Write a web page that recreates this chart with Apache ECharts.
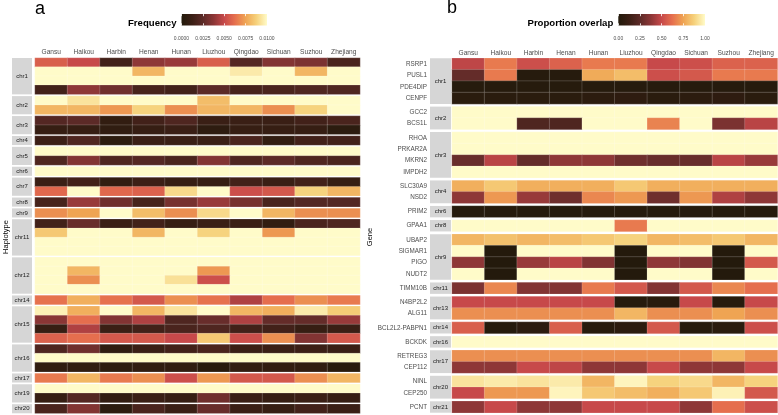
<!DOCTYPE html>
<html lang="en">
<head>
    <meta charset="utf-8">
    <title>Haplotype frequency and gene overlap</title>
    <script src="https://cdn.jsdelivr.net/npm/echarts@6/dist/echarts.min.js"></script>
    <style>
        html, body { margin: 0; padding: 0; background: #fff; }
    </style>
</head>
<body>

<div id="main" style="width: 778px;height:415px;"></div>

<script>
    var FONT = '"Liberation Sans", Arial, Helvetica, sans-serif';

    // columns of both heatmaps
    var regions = ['Gansu', 'Haikou', 'Harbin', 'Henan', 'Hunan', 'Liuzhou', 'Qingdao', 'Sichuan', 'Suzhou', 'Zhejiang'];

    // panel a: haplotype groups and how many haplotype rows each has
    var haploGroups = ['chr1', 'chr2', 'chr3', 'chr4', 'chr5', 'chr6', 'chr7', 'chr8', 'chr9', 'chr11', 'chr12', 'chr14', 'chr15', 'chr16', 'chr17', 'chr19', 'chr20'];
    var haploRows = [4, 2, 2, 1, 2, 1, 2, 1, 1, 4, 4, 1, 4, 3, 1, 2, 1];

    // panel a: frequency of each haplotype row, one value per region
    var haploFreq = [
        [0.0057, 0.0050, 0.0015, 0.0038, 0.0040, 0.0057, 0.0022, 0.0035, 0.0033, 0.0018],
        [0.0100, 0.0100, 0.0100, 0.0080, 0.0100, 0.0100, 0.0095, 0.0100, 0.0080, 0.0100],
        [0.0100, 0.0100, 0.0100, 0.0100, 0.0100, 0.0100, 0.0100, 0.0100, 0.0100, 0.0100],
        [0.0015, 0.0038, 0.0030, 0.0017, 0.0015, 0.0025, 0.0017, 0.0018, 0.0020, 0.0020],
        [0.0100, 0.0093, 0.0100, 0.0100, 0.0100, 0.0082, 0.0100, 0.0100, 0.0100, 0.0100],
        [0.0080, 0.0080, 0.0072, 0.0088, 0.0070, 0.0080, 0.0080, 0.0070, 0.0088, 0.0100],
        [0.0022, 0.0025, 0.0008, 0.0015, 0.0020, 0.0012, 0.0012, 0.0012, 0.0015, 0.0018],
        [0.0010, 0.0010, 0.0007, 0.0010, 0.0012, 0.0006, 0.0010, 0.0010, 0.0010, 0.0005],
        [0.0013, 0.0020, 0.0005, 0.0012, 0.0012, 0.0012, 0.0018, 0.0008, 0.0015, 0.0015],
        [0.0100, 0.0100, 0.0100, 0.0100, 0.0100, 0.0100, 0.0100, 0.0100, 0.0100, 0.0100],
        [0.0020, 0.0035, 0.0020, 0.0022, 0.0018, 0.0035, 0.0020, 0.0025, 0.0020, 0.0018],
        [0.0100, 0.0100, 0.0100, 0.0100, 0.0100, 0.0100, 0.0100, 0.0100, 0.0100, 0.0100],
        [0.0012, 0.0015, 0.0008, 0.0013, 0.0010, 0.0010, 0.0015, 0.0012, 0.0015, 0.0010],
        [0.0060, 0.0100, 0.0060, 0.0058, 0.0090, 0.0100, 0.0052, 0.0055, 0.0088, 0.0080],
        [0.0017, 0.0040, 0.0030, 0.0017, 0.0032, 0.0040, 0.0032, 0.0018, 0.0022, 0.0022],
        [0.0070, 0.0075, 0.0100, 0.0082, 0.0070, 0.0090, 0.0100, 0.0080, 0.0070, 0.0070],
        [0.0015, 0.0028, 0.0012, 0.0015, 0.0010, 0.0012, 0.0012, 0.0008, 0.0018, 0.0020],
        [0.0085, 0.0100, 0.0100, 0.0080, 0.0100, 0.0088, 0.0100, 0.0072, 0.0100, 0.0100],
        [0.0100, 0.0100, 0.0100, 0.0100, 0.0100, 0.0100, 0.0100, 0.0100, 0.0100, 0.0100],
        [0.0100, 0.0100, 0.0100, 0.0100, 0.0100, 0.0100, 0.0100, 0.0100, 0.0100, 0.0100],
        [0.0100, 0.0100, 0.0100, 0.0100, 0.0100, 0.0100, 0.0100, 0.0100, 0.0100, 0.0100],
        [0.0100, 0.0080, 0.0100, 0.0100, 0.0100, 0.0072, 0.0100, 0.0100, 0.0100, 0.0100],
        [0.0100, 0.0070, 0.0100, 0.0100, 0.0092, 0.0052, 0.0100, 0.0100, 0.0100, 0.0100],
        [0.0100, 0.0100, 0.0100, 0.0100, 0.0100, 0.0100, 0.0100, 0.0100, 0.0100, 0.0100],
        [0.0063, 0.0078, 0.0063, 0.0055, 0.0070, 0.0063, 0.0045, 0.0062, 0.0070, 0.0065],
        [0.0097, 0.0078, 0.0100, 0.0080, 0.0093, 0.0100, 0.0080, 0.0078, 0.0095, 0.0086],
        [0.0037, 0.0062, 0.0035, 0.0045, 0.0020, 0.0028, 0.0045, 0.0027, 0.0027, 0.0040],
        [0.0010, 0.0045, 0.0012, 0.0015, 0.0018, 0.0020, 0.0015, 0.0015, 0.0010, 0.0012],
        [0.0058, 0.0062, 0.0055, 0.0055, 0.0050, 0.0085, 0.0052, 0.0070, 0.0035, 0.0055],
        [0.0020, 0.0030, 0.0007, 0.0012, 0.0015, 0.0018, 0.0012, 0.0012, 0.0013, 0.0012],
        [0.0100, 0.0100, 0.0100, 0.0100, 0.0100, 0.0100, 0.0100, 0.0100, 0.0100, 0.0100],
        [0.0007, 0.0007, 0.0005, 0.0007, 0.0007, 0.0003, 0.0008, 0.0008, 0.0007, 0.0003],
        [0.0065, 0.0080, 0.0065, 0.0070, 0.0052, 0.0072, 0.0055, 0.0055, 0.0070, 0.0080],
        [0.0100, 0.0100, 0.0100, 0.0100, 0.0100, 0.0100, 0.0100, 0.0100, 0.0100, 0.0100],
        [0.0010, 0.0022, 0.0008, 0.0012, 0.0010, 0.0030, 0.0012, 0.0010, 0.0012, 0.0010],
        [0.0018, 0.0035, 0.0005, 0.0018, 0.0012, 0.0028, 0.0012, 0.0010, 0.0015, 0.0012]
    ];

    // panel b: genes and the chromosome each one sits on
    var genes = ['RSRP1', 'PUSL1', 'PDE4DIP', 'CENPF', 'GCC2', 'BCS1L', 'RHOA', 'PRKAR2A', 'MKRN2', 'IMPDH2',
        'SLC30A9', 'NSD2', 'PRIM2', 'GPAA1', 'UBAP2', 'SIGMAR1', 'PIGO', 'NUDT2', 'TIMM10B', 'N4BP2L2', 'ALG11',
        'BCL2L2-PABPN1', 'BCKDK', 'RETREG3', 'CEP112', 'NINL', 'CEP250', 'PCNT'];
    var geneChr = ['chr1', 'chr1', 'chr1', 'chr1', 'chr2', 'chr2', 'chr3', 'chr3', 'chr3', 'chr3',
        'chr4', 'chr4', 'chr6', 'chr8', 'chr9', 'chr9', 'chr9', 'chr9', 'chr11', 'chr13', 'chr13',
        'chr14', 'chr16', 'chr17', 'chr17', 'chr20', 'chr20', 'chr21'];

    // panel b: proportion overlap per gene and region
    var overlap = [
        [0.48, 0.65, 0.52, 0.58, 0.65, 0.65, 0.50, 0.52, 0.58, 0.58],
        [0.27, 0.65, 0.02, 0.02, 0.77, 0.82, 0.52, 0.55, 0.65, 0.65],
        [0.02, 0.02, 0.02, 0.02, 0.02, 0.02, 0.02, 0.02, 0.02, 0.02],
        [0.04, 0.04, 0.04, 0.04, 0.05, 0.06, 0.04, 0.05, 0.06, 0.04],
        [1.00, 1.00, 1.00, 1.00, 1.00, 1.00, 1.00, 1.00, 1.00, 1.00],
        [1.00, 1.00, 0.20, 0.20, 1.00, 1.00, 0.67, 1.00, 0.33, 0.47],
        [1.00, 1.00, 1.00, 1.00, 1.00, 1.00, 1.00, 1.00, 1.00, 1.00],
        [1.00, 1.00, 1.00, 1.00, 1.00, 1.00, 1.00, 1.00, 1.00, 1.00],
        [0.28, 0.47, 0.27, 0.38, 0.38, 0.30, 0.28, 0.28, 0.47, 0.40],
        [1.00, 1.00, 1.00, 1.00, 1.00, 1.00, 1.00, 1.00, 1.00, 1.00],
        [0.78, 0.85, 0.78, 0.78, 0.78, 0.85, 0.78, 0.78, 0.78, 0.78],
        [0.38, 0.72, 0.40, 0.30, 0.68, 0.72, 0.30, 0.72, 0.45, 0.38],
        [0.02, 0.02, 0.02, 0.02, 0.02, 0.02, 0.02, 0.02, 0.02, 0.02],
        [1.00, 1.00, 1.00, 1.00, 1.00, 0.65, 1.00, 1.00, 1.00, 1.00],
        [0.80, 0.83, 0.80, 0.82, 0.85, 0.88, 0.80, 0.82, 0.85, 0.80],
        [1.00, 0.01, 1.00, 1.00, 1.00, 0.01, 1.00, 1.00, 0.01, 1.00],
        [0.38, 0.01, 0.40, 0.47, 0.35, 0.01, 0.38, 0.35, 0.01, 0.55],
        [1.00, 0.01, 1.00, 1.00, 1.00, 0.01, 1.00, 1.00, 0.01, 1.00],
        [0.33, 0.68, 0.35, 0.35, 0.65, 0.55, 0.35, 0.55, 0.68, 0.62],
        [0.50, 0.50, 0.50, 0.50, 0.50, 0.02, 0.03, 0.50, 0.03, 0.50],
        [0.70, 0.70, 0.70, 0.70, 0.70, 0.80, 0.70, 0.70, 0.75, 0.70],
        [0.57, 0.02, 0.05, 0.57, 0.03, 0.05, 0.55, 0.02, 0.04, 0.52],
        [1.00, 1.00, 1.00, 1.00, 1.00, 1.00, 1.00, 1.00, 1.00, 1.00],
        [0.70, 0.70, 0.70, 0.70, 0.70, 0.70, 0.70, 0.70, 0.80, 0.70],
        [0.38, 0.38, 0.50, 0.48, 0.38, 0.38, 0.50, 0.38, 0.38, 0.50],
        [0.93, 0.95, 0.93, 0.95, 0.80, 0.98, 0.88, 0.90, 0.80, 0.88],
        [0.50, 0.72, 0.72, 0.98, 0.85, 0.82, 0.78, 0.85, 0.97, 0.55],
        [0.38, 0.50, 0.38, 0.38, 0.50, 0.50, 0.50, 0.38, 0.62, 0.52]
    ];

    // colour bar ticks
    var freqTicks = [0, 0.0025, 0.005, 0.0075, 0.01];
    var overlapTicks = [0, 0.25, 0.5, 0.75, 1];

    var palette = ['#221a0b', '#3b1f15', '#5c2a27', '#8c3636', '#c7494a', '#e6704e', '#efa453', '#f6d17b', '#fffbc9'];

    // expand panel a group sizes into one chr name per row
    var haploChr = [];
    var haploNames = [];
    haploGroups.forEach(function (g, i) {
        for (var k = 0; k < haploRows[i]; k++) {
            haploChr.push(g);
            haploNames.push(g + '_' + (k + 1));
        }
    });

    // contiguous runs of the same chromosome -> one facet each
    function runs(chrList) {
        var out = [];
        chrList.forEach(function (c, i) {
            var last = out[out.length - 1];
            if (last && last.name === c) last.end = i;
            else out.push({name: c, start: i, end: i});
        });
        return out;
    }

    var option = {
        animation: false,
        backgroundColor: '#fff',
        textStyle: {fontFamily: FONT},
        grid: [], xAxis: [], yAxis: [], series: [], visualMap: [], graphic: []
    };

    function addPanel(p) {
        var groups = runs(p.chr);
        var rowH = (p.bottom - p.top - p.gap * (groups.length - 1)) / p.chr.length;
        var y = p.top;
        var idx = [];
        groups.forEach(function (g, k) {
            var n = g.end - g.start + 1;
            var h = n * rowH;
            var gi = option.grid.length;
            option.grid.push({left: p.left, top: y, width: p.width, height: h});
            option.xAxis.push({
                type: 'category', gridIndex: gi, data: regions, position: 'top',
                axisLine: {show: false}, axisTick: {show: false}, splitLine: {show: false},
                axisLabel: {show: k === 0, interval: 0, fontSize: 6.6, color: '#4d4d4d', margin: 2, fontFamily: FONT}
            });
            option.yAxis.push({
                type: 'category', gridIndex: gi, inverse: true, data: p.names.slice(g.start, g.end + 1),
                axisLine: {show: false}, axisTick: {show: false}, splitLine: {show: false},
                axisLabel: {show: p.rowLabels, interval: 0, fontSize: 6.3, color: '#4d4d4d', margin: p.labelMargin, fontFamily: FONT}
            });
            var data = [];
            for (var r = g.start; r <= g.end; r++) {
                p.values[r].forEach(function (v, c) {
                    data.push([c, r - g.start, v]);
                });
            }
            idx.push(option.series.length);
            option.series.push({
                type: 'heatmap', xAxisIndex: gi, yAxisIndex: gi, data: data, silent: true,
                itemStyle: {borderColor: 'rgba(255,255,255,0.35)', borderWidth: 0.5},
                emphasis: {disabled: true}
            });
            // facet strip
            option.graphic.push({
                type: 'rect', silent: true,
                shape: {x: p.stripX, y: y, width: p.stripW, height: h},
                style: {fill: '#d6d6d6'}
            });
            option.graphic.push({
                type: 'text', silent: true, x: p.stripX + p.stripW / 2, y: y + h / 2,
                style: {text: g.name, fill: '#1a1a1a', font: '6px ' + FONT,
                    textAlign: 'center', textVerticalAlign: 'middle', align: 'center', verticalAlign: 'middle'}
            });
            y += h + p.gap;
        });
        option.visualMap.push({
            type: 'continuous', show: false, min: 0, max: p.max, seriesIndex: idx,
            inRange: {color: palette}
        });
    }

    function addColorbar(cb) {
        var gi = option.grid.length;
        option.grid.push({left: cb.left, top: cb.top, width: cb.width, height: cb.height});
        var stops = palette.map(function (c, i) {
            return {offset: i / (palette.length - 1), color: c};
        });
        var xi = option.xAxis.length;
        option.xAxis.push({
            type: 'value', gridIndex: gi, min: 0, max: cb.ticks[cb.ticks.length - 1],
            interval: cb.ticks[1], position: 'bottom', z: 5,
            axisLine: {show: false}, splitLine: {show: false},
            axisTick: {show: true, inside: true, length: 2.2, lineStyle: {color: '#fff', width: 0.8}, customValues: cb.ticks},
            axisLabel: {fontSize: 5, color: '#4d4d4d', margin: 11, fontFamily: FONT, customValues: cb.ticks,
                formatter: function (v) { return v.toFixed(cb.digits); }}
        });
        option.xAxis.push({
            type: 'value', gridIndex: gi, min: 0, max: cb.ticks[cb.ticks.length - 1],
            interval: cb.ticks[1], position: 'top', z: 5,
            axisLine: {show: false}, splitLine: {show: false}, axisLabel: {show: false},
            axisTick: {show: true, inside: true, length: 2.2, lineStyle: {color: '#fff', width: 0.8}, customValues: cb.ticks}
        });
        var yi = option.yAxis.length;
        option.yAxis.push({type: 'value', gridIndex: gi, show: false, min: 0, max: 1});
        option.series.push({
            type: 'custom', xAxisIndex: xi, yAxisIndex: yi, data: [[0, 0]], silent: true, z: 1,
            renderItem: function (params) {
                var cs = params.coordSys;
                return {
                    type: 'rect',
                    shape: {x: cs.x, y: cs.y, width: cs.width, height: cs.height},
                    style: {fill: new echarts.graphic.LinearGradient(0, 0, 1, 0, stops)}
                };
            }
        });
        option.graphic.push({
            type: 'text', silent: true, x: cb.left - 5, y: cb.top + 9,
            style: {text: cb.title, fill: '#000', font: 'bold 9.6px ' + FONT,
                textAlign: 'right', textVerticalAlign: 'middle', align: 'right', verticalAlign: 'middle'}
        });
    }

    addPanel({
        chr: haploChr, names: haploNames, values: haploFreq, max: 0.01,
        left: 35, width: 325, top: 58, bottom: 413.3, gap: 1.75,
        stripX: 12, stripW: 20, rowLabels: false, labelMargin: 4
    });
    addPanel({
        chr: geneChr, names: genes, values: overlap, max: 1,
        left: 452, width: 325.5, top: 58.3, bottom: 412.7, gap: 2.7,
        stripX: 430, stripW: 21, rowLabels: true, labelMargin: 25
    });
    addColorbar({title: 'Frequency', ticks: freqTicks, digits: 4, left: 181.5, top: 14, width: 85.5, height: 11.5});
    addColorbar({title: 'Proportion overlap', ticks: overlapTicks, digits: 2, left: 618.3, top: 14, width: 86.7, height: 11.5});

    // panel letters and axis titles
    option.graphic.push(
        {type: 'text', silent: true, x: 35, y: 9, style: {text: 'a', fill: '#000', font: '18px ' + FONT, textAlign: 'left', textVerticalAlign: 'middle', align: 'left', verticalAlign: 'middle'}},
        {type: 'text', silent: true, x: 447, y: 8, style: {text: 'b', fill: '#000', font: '18px ' + FONT, textAlign: 'left', textVerticalAlign: 'middle', align: 'left', verticalAlign: 'middle'}},
        {type: 'text', silent: true, x: 5.5, y: 237, rotation: Math.PI / 2, style: {text: 'Haplotype', fill: '#000', font: '7.5px ' + FONT, textAlign: 'center', textVerticalAlign: 'middle', align: 'center', verticalAlign: 'middle'}},
        {type: 'text', silent: true, x: 370, y: 237, rotation: Math.PI / 2, style: {text: 'Gene', fill: '#000', font: '7.5px ' + FONT, textAlign: 'center', textVerticalAlign: 'middle', align: 'center', verticalAlign: 'middle'}}
    );

    var myChart = echarts.init(document.getElementById('main'), null, {renderer: 'canvas'});
    myChart.setOption(option);
</script>
</body>
</html>
